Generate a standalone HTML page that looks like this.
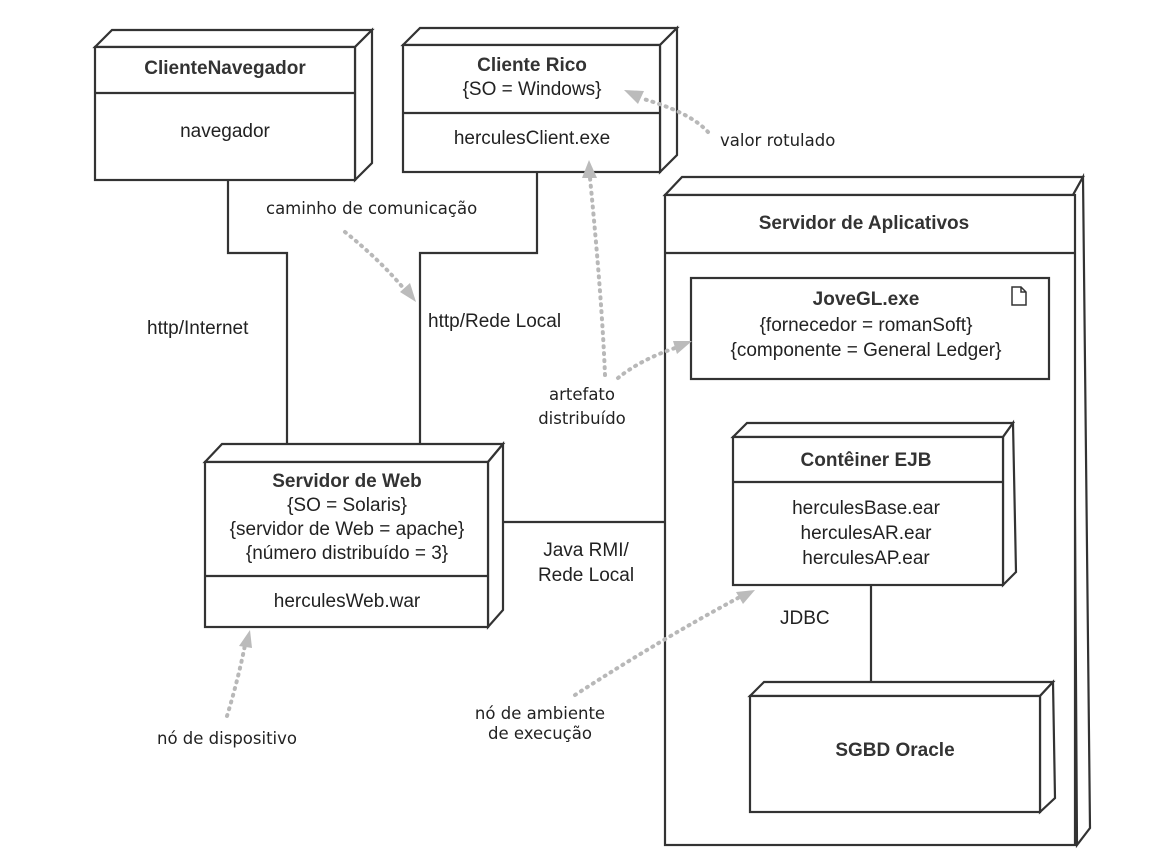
<!DOCTYPE html>
<html><head><meta charset="utf-8"><style>
html,body{margin:0;padding:0;background:#fff;}
svg{display:block;}
.b{font-family:"Liberation Sans",sans-serif;font-weight:bold;font-size:19px;fill:#333;}
.n{font-family:"Liberation Sans",sans-serif;font-size:19px;fill:#222;}
.h{font-family:"DejaVu Sans",sans-serif;font-size:16.5px;fill:#222;}
.box{fill:#fff;stroke:#333;stroke-width:2.2;}
.ln{stroke:#333;stroke-width:2.2;fill:none;}
.dot{stroke:#b8b8b8;stroke-width:4;stroke-dasharray:1 6;stroke-linecap:round;fill:none;}
.ah{fill:#bbb;}
</style></head><body>
<svg width="1150" height="862" viewBox="0 0 1150 862" xmlns="http://www.w3.org/2000/svg">
<!-- Servidor de Aplicativos -->
<polygon class="box" points="665,195 682,177 1083,177 1073,195"/>
<polygon class="box" points="1073,195 1083,177 1090,828 1077,845"/>
<rect class="box" x="665" y="195" width="410" height="650"/>
<line class="ln" x1="665" y1="253" x2="1075" y2="253"/>
<text class="b" x="864" y="229" text-anchor="middle">Servidor de Aplicativos</text>

<!-- connectors -->
<polyline class="ln" points="228,180 228,253 287,253 287,462"/>
<polyline class="ln" points="537,172 537,253 420,253 420,462"/>
<line class="ln" x1="488" y1="522" x2="665" y2="522"/>
<line class="ln" x1="871" y1="585" x2="871" y2="696"/>

<!-- ClienteNavegador -->
<polygon class="box" points="95,47 112,30 372,30 355,47"/>
<polygon class="box" points="355,47 372,30 372,163 355,180"/>
<rect class="box" x="95" y="47" width="260" height="133"/>
<line class="ln" x1="95" y1="93" x2="355" y2="93"/>
<text class="b" x="225" y="74" text-anchor="middle">ClienteNavegador</text>
<text class="n" x="225" y="137" text-anchor="middle">navegador</text>

<!-- Cliente Rico -->
<polygon class="box" points="403,45 420,28 677,28 660,45"/>
<polygon class="box" points="660,45 677,28 677,155 660,172"/>
<rect class="box" x="403" y="45" width="257" height="127"/>
<line class="ln" x1="403" y1="113" x2="660" y2="113"/>
<text class="b" x="532" y="71" text-anchor="middle">Cliente Rico</text>
<text class="n" x="532" y="95" text-anchor="middle">{SO = Windows}</text>
<text class="n" x="532" y="144" text-anchor="middle">herculesClient.exe</text>

<!-- Servidor de Web -->
<polygon class="box" points="205,462 222,444 503,444 488,462"/>
<polygon class="box" points="488,462 503,444 503,610 488,627"/>
<rect class="box" x="205" y="462" width="283" height="165"/>
<line class="ln" x1="205" y1="576" x2="488" y2="576"/>
<text class="b" x="347" y="487" text-anchor="middle">Servidor de Web</text>
<text class="n" x="347" y="511" text-anchor="middle">{SO = Solaris}</text>
<text class="n" x="347" y="535" text-anchor="middle">{servidor de Web = apache}</text>
<text class="n" x="347" y="559" text-anchor="middle">{número distribuído = 3}</text>
<text class="n" x="347" y="607" text-anchor="middle">herculesWeb.war</text>

<!-- JoveGL -->
<rect class="box" x="691" y="278" width="358" height="101"/>
<path d="M1012,287 h9 l5,5 v13 h-14 z M1021,287 v5 h5" fill="none" stroke="#333" stroke-width="1.5"/>
<text class="b" x="866" y="305" text-anchor="middle">JoveGL.exe</text>
<text class="n" x="866" y="331" text-anchor="middle">{fornecedor = romanSoft}</text>
<text class="n" x="866" y="356" text-anchor="middle">{componente = General Ledger}</text>

<!-- Conteiner EJB -->
<polygon class="box" points="733,437 747,423 1013,423 1003,437"/>
<polygon class="box" points="1003,437 1013,423 1016,572 1003,585"/>
<rect class="box" x="733" y="437" width="270" height="148"/>
<line class="ln" x1="733" y1="482" x2="1003" y2="482"/>
<text class="b" x="866" y="466" text-anchor="middle">Contêiner EJB</text>
<text class="n" x="866" y="514" text-anchor="middle">herculesBase.ear</text>
<text class="n" x="866" y="539" text-anchor="middle">herculesAR.ear</text>
<text class="n" x="866" y="564" text-anchor="middle">herculesAP.ear</text>

<!-- SGBD Oracle -->
<polygon class="box" points="750,696 764,682 1053,682 1040,696"/>
<polygon class="box" points="1040,696 1053,682 1055,798 1040,812"/>
<rect class="box" x="750" y="696" width="290" height="116"/>
<text class="b" x="895" y="756" text-anchor="middle">SGBD Oracle</text>

<!-- labels on connectors -->
<text class="n" x="147" y="334">http/Internet</text>
<text class="n" x="428" y="327">http/Rede Local</text>
<text class="n" x="586" y="556" text-anchor="middle">Java RMI/</text>
<text class="n" x="586" y="581" text-anchor="middle">Rede Local</text>
<text class="n" x="780" y="624">JDBC</text>

<!-- annotations -->
<text class="h" x="266" y="214">caminho de comunicação</text>
<text class="h" x="720" y="146">valor rotulado</text>
<text class="h" x="582" y="400" text-anchor="middle">artefato</text>
<text class="h" x="582" y="424" text-anchor="middle">distribuído</text>
<text class="h" x="157" y="744">nó de dispositivo</text>
<text class="h" x="540" y="719" text-anchor="middle">nó de ambiente</text>
<text class="h" x="540" y="739" text-anchor="middle">de execução</text>

<!-- dotted arrows -->
<path class="dot" d="M708,132 Q690,112 640,98"/>
<polygon class="ah" points="624,90 644,91 638,104"/>
<path class="dot" d="M345,232 Q380,260 405,290"/>
<polygon class="ah" points="416,302 400,292 410,283"/>
<path class="dot" d="M605,375 Q602,300 590,178"/>
<polygon class="ah" points="589,160 582,178 597,178"/>
<path class="dot" d="M618,378 Q640,360 675,348"/>
<polygon class="ah" points="692,341 673,341 677,354"/>
<path class="dot" d="M227,716 Q238,680 245,645"/>
<polygon class="ah" points="250,630 239,646 252,648"/>
<path class="dot" d="M575,695 Q660,640 738,598"/>
<polygon class="ah" points="755,590 736,592 743,604"/>
</svg>
</body></html>
